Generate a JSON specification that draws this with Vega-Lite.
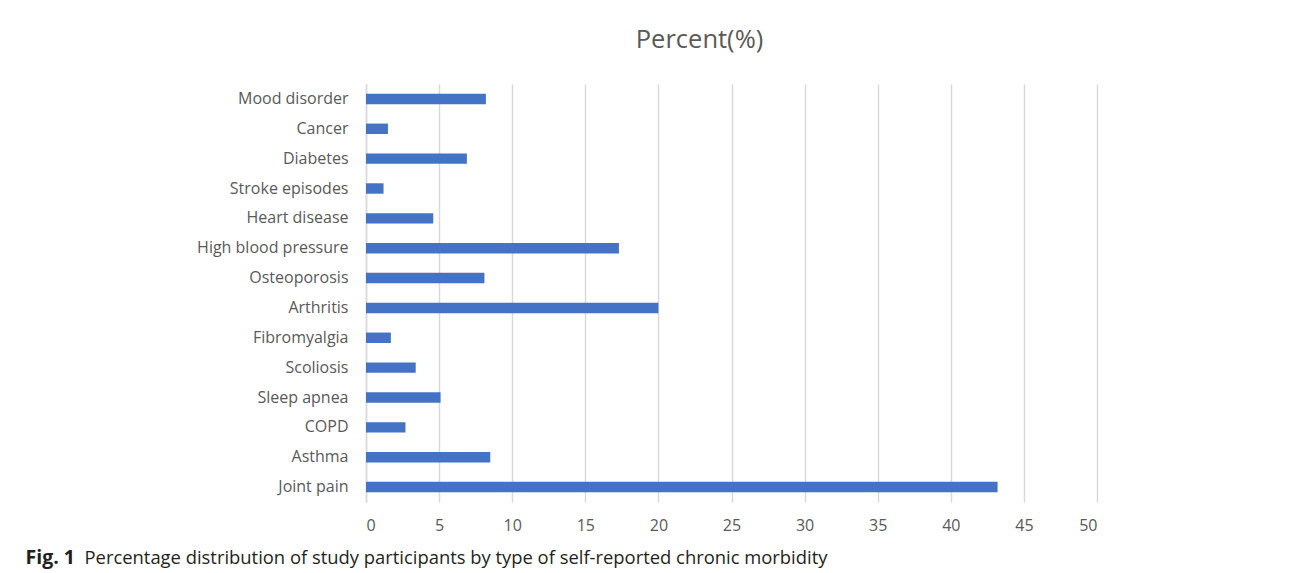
{
  "$schema": "https://vega.github.io/schema/vega-lite/v6.json",
  "width": 731,
  "height": 418,
  "autosize": {"type": "none"},
  "padding": {"left": 366, "top": 84, "right": 195, "bottom": 71},
  "background": "white",
  "title": {
    "text": "Percent(%)",
    "anchor": "middle",
    "dx": -32,
    "offset": 31,
    "font": "Open Sans",
    "fontSize": 25.5,
    "fontWeight": "normal",
    "color": "#595959"
  },
  "data": {
    "values": [
      {"condition": "Mood disorder\u00a0", "percent": 8.2},
      {"condition": "Cancer", "percent": 1.5},
      {"condition": "Diabetes", "percent": 6.9},
      {"condition": "Stroke episodes", "percent": 1.2},
      {"condition": "Heart disease", "percent": 4.6},
      {"condition": "High blood pressure", "percent": 17.3},
      {"condition": "Osteoporosis", "percent": 8.1},
      {"condition": "Arthritis", "percent": 20.0},
      {"condition": "Fibromyalgia", "percent": 1.7},
      {"condition": "Scoliosis", "percent": 3.4},
      {"condition": "Sleep apnea", "percent": 5.1},
      {"condition": "COPD", "percent": 2.7},
      {"condition": "Asthma", "percent": 8.5},
      {"condition": "Joint pain\u00a0", "percent": 43.2}
    ]
  },
  "mark": {"type": "bar", "color": "#4472c4"},
  "encoding": {
    "y": {
      "field": "condition",
      "type": "nominal",
      "sort": null,
      "scale": {"paddingInner": 0.65, "paddingOuter": 0.325},
      "axis": {
        "title": "Fig. 1",
        "titleAngle": 0,
        "titleX": -341,
        "titleY": 473,
        "titleAlign": "left",
        "titleBaseline": "middle",
        "titleFont": "Open Sans",
        "titleFontSize": 19.5,
        "titleFontWeight": "bold",
        "titleColor": "#231f20",
        "labelFont": "Open Sans",
        "labelFontSize": 16,
        "labelColor": "#595959",
        "labelPadding": 18,
        "ticks": false,
        "domain": true,
        "domainColor": "#d9d9d9",
        "domainWidth": 1.5,
        "grid": false
      }
    },
    "x": {
      "field": "percent",
      "type": "quantitative",
      "scale": {"domain": [0, 50], "nice": false},
      "axis": {
        "values": [0, 5, 10, 15, 20, 25, 30, 35, 40, 45, 50],
        "title": "Percentage distribution of study participants by type of self-reported chronic morbidity",
        "titleX": -282,
        "titleY": 55,
        "titleAlign": "left",
        "titleAnchor": "start",
        "titleBaseline": "middle",
        "titleFont": "Open Sans",
        "titleFontSize": 18.4,
        "titleFontWeight": "normal",
        "titleColor": "#231f20",
        "labelFont": "Open Sans",
        "labelFontSize": 16,
        "labelColor": "#595959",
        "labelPadding": 15,
        "ticks": false,
        "domain": false,
        "grid": true,
        "gridColor": "#d9d9d9",
        "gridWidth": 1.5
      }
    }
  },
  "config": {"view": {"stroke": null}}
}
